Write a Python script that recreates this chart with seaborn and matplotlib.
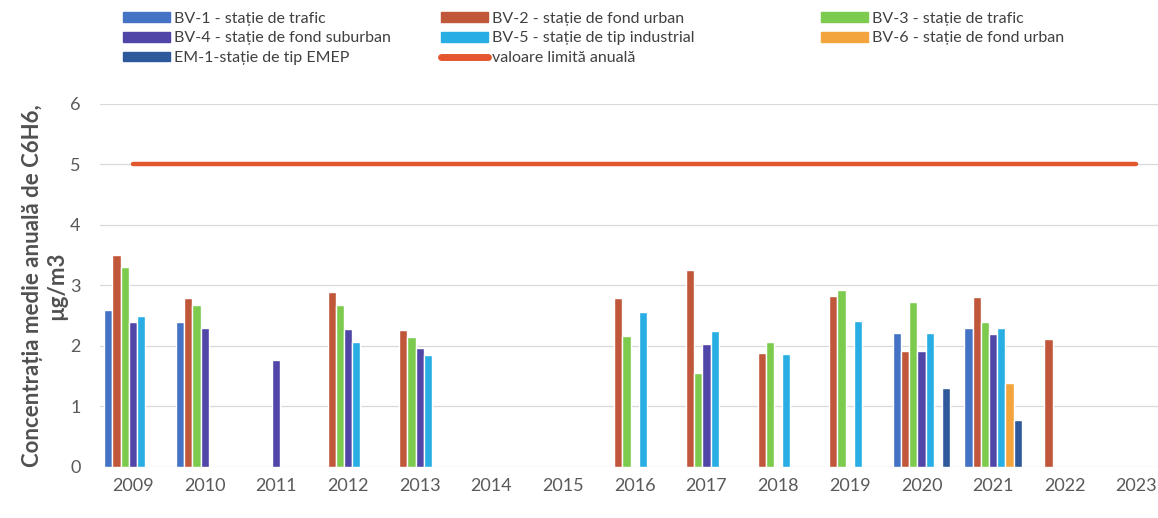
import matplotlib
matplotlib.use("Agg")
import matplotlib.pyplot as plt
from matplotlib.lines import Line2D
import numpy as np
import pandas as pd
import seaborn as sns


# Data

years = ["2009", "2010", "2011", "2012", "2013", "2014", "2015", "2016",
         "2017", "2018", "2019", "2020", "2021", "2022", "2023"]

nan = np.nan
bv1 = [2.6, 2.4, nan, nan, nan, nan, nan, nan, nan, nan, nan, 2.22, 2.3, nan, nan]
bv2 = [3.5, 2.8, nan, 2.89, 2.26, nan, nan, 2.8, 3.26, 1.88, 2.83, 1.92, 2.81, 2.12, nan]
bv3 = [3.3, 2.67, nan, 2.68, 2.15, nan, nan, 2.16, 1.56, 2.07, 2.93, 2.72, 2.4, nan, nan]
bv4 = [2.4, 2.29, 1.77, 2.28, 1.96, nan, nan, nan, 2.04, nan, nan, 1.92, 2.2, nan, nan]
bv5 = [2.5, nan, nan, 2.07, 1.85, nan, nan, 2.56, 2.24, 1.87, 2.42, 2.22, 2.29, nan, nan]
bv6 = [nan, nan, nan, nan, nan, nan, nan, nan, nan, nan, nan, nan, 1.39, nan, nan]
em1 = [nan, nan, nan, nan, nan, nan, nan, nan, nan, nan, nan, 1.3, 0.78, nan, nan]
limit_values = [5] * len(years)

stations = ["BV-1 - stație de trafic", "BV-2 - stație de fond urban",
            "BV-3 - stație de trafic", "BV-4 - stație de fond suburban",
            "BV-5 - stație de tip industrial", "BV-6 - stație de fond urban",
            "EM-1-stație de tip EMEP"]
limit_label = "valoare limită anuală"

colors = ["#4472C4", "#C0563A", "#7DCB4E", "#5046A8", "#28AEE3", "#F4A43C", "#2E5A9C"]
limit_color = "#E4572E"

# Data processing

rows = []
for name, vals in zip(stations, [bv1, bv2, bv3, bv4, bv5, bv6, em1]):
    for yr, v in zip(years, vals):
        rows.append([yr, name, v])
df = pd.DataFrame(rows, columns=["an", "statie", "valoare"]).dropna()

# plot

sns.set_style("white")
plt.rcParams["font.family"] = ["Lato", "DejaVu Sans"]

fig = plt.figure(figsize=(11.58, 5.18), dpi=100)
ax = fig.add_axes([100 / 1158, 0.0985, 1058 / 1158, 0.701])

sns.barplot(data=df, x="an", y="valoare", hue="statie", order=years,
            hue_order=stations, palette=colors, width=0.8, errorbar=None,
            saturation=1, ax=ax, legend=False, zorder=3)
ax.plot(np.arange(len(years)), limit_values, color=limit_color, lw=3.2,
        solid_capstyle="round", zorder=4)

ax.set_xlim(-0.46, 14.3)
ax.set_ylim(0, 6)
ax.set_yticks(range(0, 7))
ax.grid(axis="y", color="#D9D9D9", lw=0.9, zorder=0)
for s in ax.spines.values():
    s.set_visible(False)
ax.tick_params(axis="both", length=0, labelsize=13, colors="#595959")
ax.tick_params(axis="y", pad=14)
ax.tick_params(axis="x", pad=8)
ax.set_xlabel("")
ax.set_ylabel("Concentrația medie anuală de C6H6,\nµg/m3", fontsize=16,
              fontweight="bold", color="#505050", labelpad=2)

handles = [plt.Rectangle((0, 0), 1, 1, color=c) for c in colors]
handles.append(Line2D([0], [0], color=limit_color, lw=5, solid_capstyle="round"))
labels = stations + [limit_label]
columns = [([0, 3, 6], 109), ([1, 4, 7], 427), ([2, 5], 807)]
for idx, xpos in columns:
    fig.legend([handles[i] for i in idx], [labels[i] for i in idx],
               loc="upper left", bbox_to_anchor=(xpos / 1158, 1.005),
               frameon=False, fontsize=11.5, handlelength=2.9, handleheight=0.55,
               handletextpad=0.3, labelspacing=0.35, labelcolor="#404040")

fig.savefig("out.png", dpi=100)
